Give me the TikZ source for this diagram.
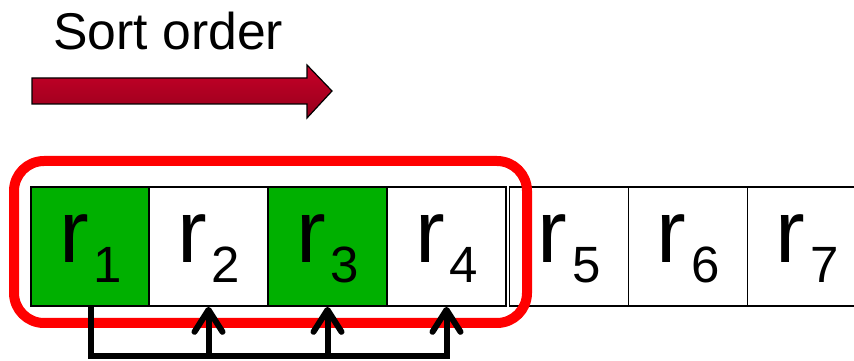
\documentclass[tikz,border=0pt]{standalone}
\usepackage{fontspec}
\setmainfont{Liberation Sans}
\usepackage{xcolor}
\usepackage{tikz}
\usetikzlibrary{arrows.meta, positioning}

\definecolor{cellgreen}{RGB}{0,176,0}
\definecolor{sorttop}{RGB}{200,0,40}
\definecolor{sortbot}{RGB}{150,0,28}

\begin{document}
\begin{tikzpicture}[x=1pt, y=1pt,
    cell/.style={draw, line width=1.7pt, minimum width=119pt, minimum height=119pt, inner sep=0pt},
    link/.style={line width=6pt},
    tip/.style={-{Straight Barb[length=22pt, width=28pt, round]}}]
    \useasboundingbox (0,0) rectangle (854,361);

    % 1. Tiêu đề và mũi tên
    \node[anchor=base west, inner sep=0pt, font=\fontsize{51.7}{52}\selectfont] (title) at (53,311) {Sort order};
    \shade[top color=sorttop, bottom color=sortbot, draw=black, line width=1.2pt]
        (32,257) -- (307,257) -- (307,243) -- (332,270) -- (307,296) -- (307,283) -- (32,283) -- cycle;

    % 2. Các ô r_i
    \foreach \i/\x/\c in {1/90.5/cellgreen, 2/208.5/white, 3/327.5/cellgreen, 4/446.5/white,
                          5/569/white, 6/688/white, 7/807/white} {
        \node[cell, fill=\c] (r\i) at (\x,114.5) {};
        \node[anchor=base, inner sep=0pt] (t\i) at (\x,98)
            {\fontsize{89}{89}\selectfont r\kern5pt\raisebox{-20pt}{\fontsize{51}{51}\selectfont \i}};
    }

    % 3. Khung đỏ
    \draw[red, line width=10pt, rounded corners=30pt] (14,38) rectangle (527,200);

    % 4. Các mũi tên từ r_1
    \coordinate (bus) at (0,5);
    \draw[link, tip] (r1.south) |- (r4.south |- bus) -- (r4.south);
    \foreach \j in {2,3} {
        \draw[link, tip] (r\j.south |- bus) -- (r\j.south);
    }
\end{tikzpicture}
\end{document}
